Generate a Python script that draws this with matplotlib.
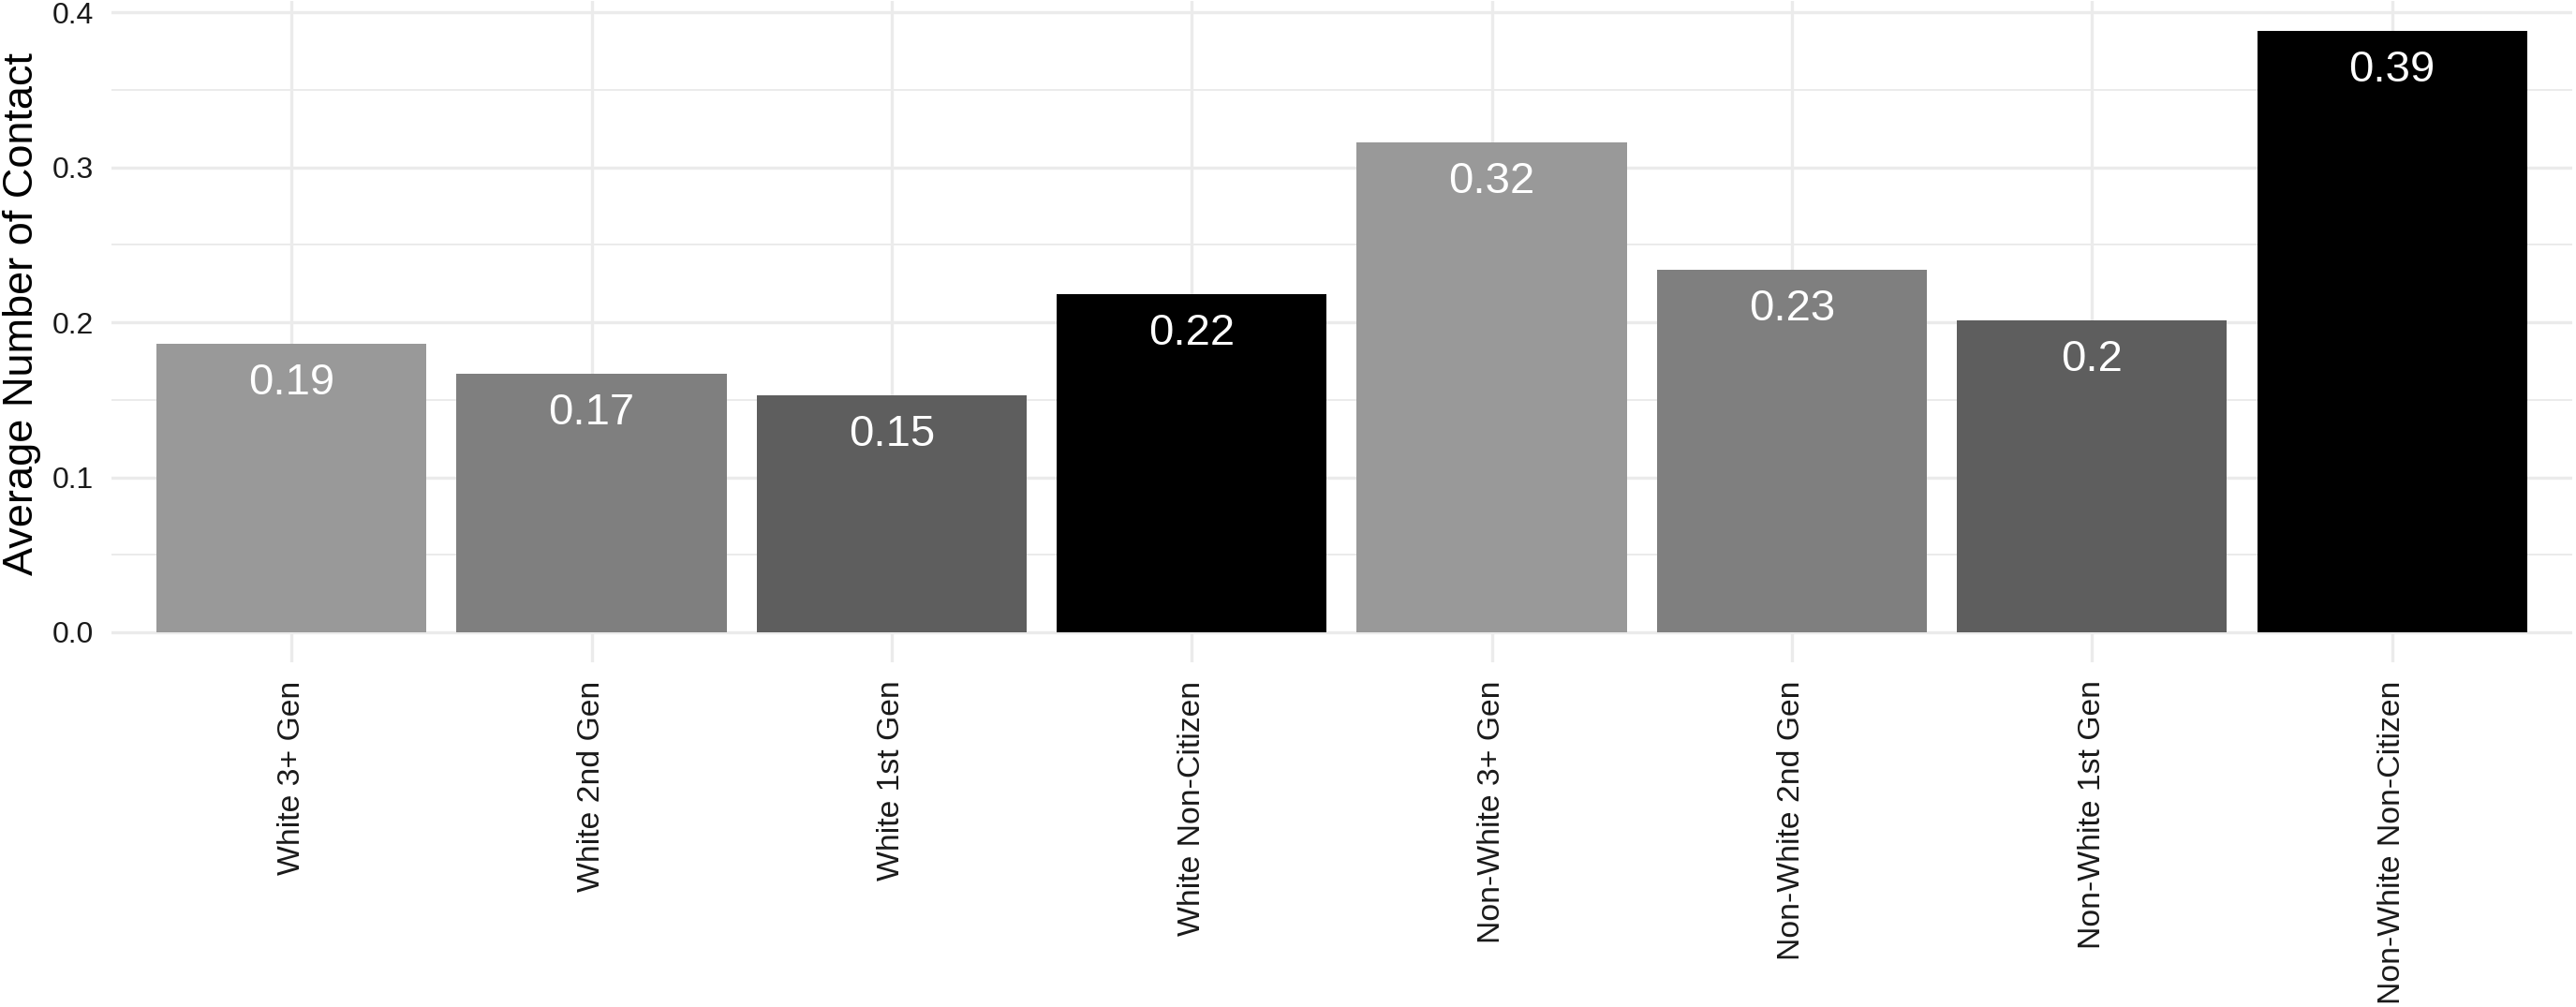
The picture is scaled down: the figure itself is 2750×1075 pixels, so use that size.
import matplotlib
matplotlib.use("Agg")
import matplotlib.pyplot as plt
from matplotlib.ticker import MultipleLocator

plt.rcParams['font.family'] = ['Liberation Sans', 'DejaVu Sans']

groups = ["White 3+ Gen", "White 2nd Gen", "White 1st Gen", "White Non-Citizen",
          "Non-White 3+ Gen", "Non-White 2nd Gen", "Non-White 1st Gen", "Non-White Non-Citizen"]
avg_contact = [0.186, 0.167, 0.153, 0.218, 0.316, 0.234, 0.201, 0.388]
bar_colors = ["#999999", "#7f7f7f", "#5e5e5e", "#000000",
              "#999999", "#7f7f7f", "#5e5e5e", "#000000"]

fig = plt.figure(figsize=(27.5, 10.75), dpi=100)
ax = fig.add_axes([0.0433, 0.3423, 0.9552, 0.6567])

x = range(len(groups))
ax.bar(x, avg_contact, width=0.9, color=bar_colors, zorder=2)

# value labels inside top of bars
for i, v in enumerate(avg_contact):
    ax.annotate(f"{round(v, 2):g}", (i, v), xytext=(0, -42), textcoords="offset pixels",
                ha="center", va="center", color="white", fontsize=34, zorder=3)

ymax = max(avg_contact)
ax.set_ylim(-0.05 * ymax, ymax * 1.05)
ax.set_xlim(-0.6, len(groups) - 0.4)

ax.yaxis.set_minor_locator(MultipleLocator(0.05))
ax.set_yticks([0.0, 0.1, 0.2, 0.3, 0.4])
ax.set_yticklabels(["0.0", "0.1", "0.2", "0.3", "0.4"])
ax.set_xticks(list(x))
ax.set_xticklabels(groups, rotation=90, va="top", ha="center")

ax.grid(True, which="major", color="#ebebeb", linewidth=2.4, zorder=0)
ax.grid(True, which="minor", axis="y", color="#ebebeb", linewidth=1.4, zorder=0)
ax.set_axisbelow(True)
for s in ax.spines.values():
    s.set_visible(False)
ax.tick_params(axis="both", which="both", length=0)
ax.tick_params(axis="y", labelsize=23, pad=14, labelcolor="#1a1a1a")
ax.tick_params(axis="x", labelsize=24.3, pad=14, labelcolor="#1a1a1a")

ax.set_ylabel("Average Number of Contact", fontsize=32.5)
ax.yaxis.set_label_coords(-0.0285, 0.527)

fig.savefig("out.png", dpi=100, facecolor="white")
